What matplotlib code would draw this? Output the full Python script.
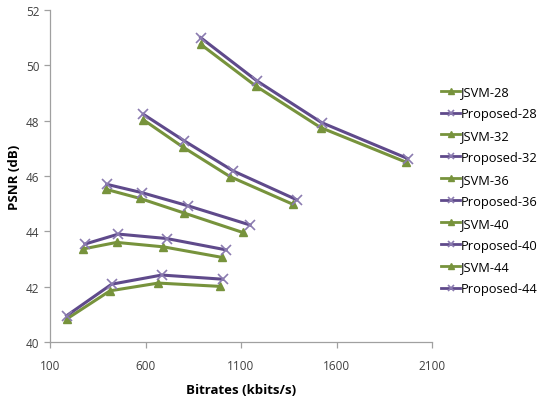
import matplotlib
matplotlib.use("Agg")
import matplotlib.pyplot as plt

plt.rcParams['font.family'] = ['Open Sans', 'DejaVu Sans']

# Data
jsvm28_x = [889, 1178, 1517, 1964]
jsvm28_y = [50.76, 49.25, 47.75, 46.50]
prop28_x = [889, 1185, 1522, 1973]
prop28_y = [51.00, 49.43, 47.93, 46.63]

jsvm32_x = [589, 795, 1042, 1371]
jsvm32_y = [48.03, 47.05, 45.98, 44.98]
prop32_x = [589, 803, 1060, 1392]
prop32_y = [48.23, 47.27, 46.18, 45.14]

jsvm36_x = [393, 571, 803, 1109]
jsvm36_y = [45.52, 45.19, 44.66, 43.96]
prop36_x = [397, 580, 824, 1147]
prop36_y = [45.70, 45.40, 44.92, 44.23]

jsvm40_x = [271, 449, 693, 999]
jsvm40_y = [43.36, 43.60, 43.44, 43.06]
prop40_x = [283, 458, 711, 1022]
prop40_y = [43.54, 43.90, 43.74, 43.33]

jsvm44_x = [187, 414, 667, 990]
jsvm44_y = [40.83, 41.85, 42.13, 42.01]
prop44_x = [187, 423, 685, 1004]
prop44_y = [40.95, 42.09, 42.42, 42.27]

series = [
    ("JSVM-28", jsvm28_x, jsvm28_y), ("Proposed-28", prop28_x, prop28_y),
    ("JSVM-32", jsvm32_x, jsvm32_y), ("Proposed-32", prop32_x, prop32_y),
    ("JSVM-36", jsvm36_x, jsvm36_y), ("Proposed-36", prop36_x, prop36_y),
    ("JSVM-40", jsvm40_x, jsvm40_y), ("Proposed-40", prop40_x, prop40_y),
    ("JSVM-44", jsvm44_x, jsvm44_y), ("Proposed-44", prop44_x, prop44_y),
]

x_ticks = [100, 600, 1100, 1600, 2100]
y_ticks = [40, 42, 44, 46, 48, 50, 52]

green = "#77933C"
purple = "#5F4A8B"
xcol = "#8B7BB0"

fig = plt.figure(figsize=(5.43, 4.02), dpi=100)
ax = fig.add_axes([50/543, 59/402, 382/543, 332/402])

for name, xs, ys in series:
    if name.startswith("JSVM"):
        ax.plot(xs, ys, color=green, lw=2.2, marker="^", ms=5.5, mfc=green, mec=green, label=name)
    else:
        ax.plot(xs, ys, color=purple, lw=2.2, marker="x", ms=7, mew=1.2, mec=xcol, label=name)

ax.set_xlim(100, 2100)
ax.set_ylim(40, 52)
ax.set_xticks(x_ticks)
ax.set_yticks(y_ticks)
for s in ["top", "right"]:
    ax.spines[s].set_visible(False)
for s in ["left", "bottom"]:
    ax.spines[s].set_color("#A0A0A0")
    ax.spines[s].set_linewidth(0.9)
ax.tick_params(axis="both", colors="#A0A0A0", labelcolor="#404040", labelsize=8.5, length=4, width=0.9, direction="out")
ax.tick_params(axis="x", pad=8)

ax.set_xlabel("Bitrates (kbits/s)", fontsize=9.5, fontweight="bold", labelpad=8)
ax.set_ylabel("PSNR (dB)", fontsize=9.5, fontweight="bold", labelpad=4)

leg = fig.legend(loc="upper left", bbox_to_anchor=(436/543, 1 - 81/402), frameon=False,
                 fontsize=9.3, handlelength=1.45, handletextpad=0.1, labelspacing=0.69,
                 borderaxespad=0)
for h in leg.legend_handles:
    h.set_markersize(4.5)
    h.set_linewidth(2)

fig.savefig("out.png", dpi=100)
